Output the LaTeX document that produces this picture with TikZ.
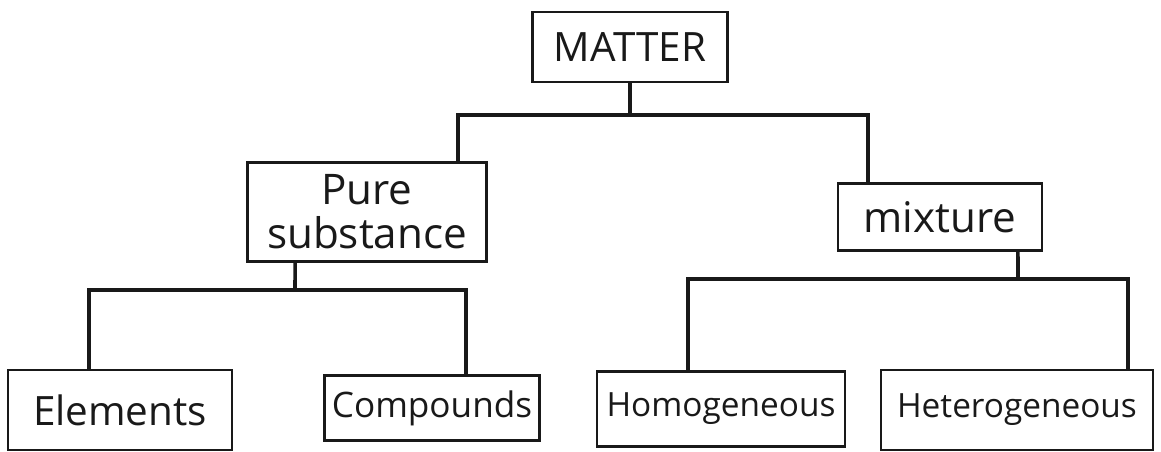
\documentclass[tikz,border=0pt]{standalone}
\usepackage{fontspec}
\setmainfont{Open Sans}
\usepackage{xcolor}
\definecolor{inkblack}{RGB}{25,25,25}
\usetikzlibrary{positioning}

\begin{document}
\begin{tikzpicture}[
    x=0.02cm, y=-0.02cm,
    every node/.style={font=\fontsize{20}{24}\selectfont, text=inkblack},
    box/.style={
        rectangle, draw=inkblack, line width=1.6pt,
        text centered, inner sep=2pt, align=center
    },
    link/.style={draw=inkblack, line width=2pt},
]

% ---- page ----
\useasboundingbox (0,0) rectangle (1161,452);

% ---- top ----
\node[box, minimum width=3.9cm, minimum height=1.4cm,
      font=\fontsize{23}{26}\selectfont] (matter) at (630,47) {MATTER};

% ---- second row ----
\node[box, minimum width=4.78cm, minimum height=1.98cm,
      font=\fontsize{24}{25}\selectfont] (pure) at (367,212) {Pure\\substance};
\node[box, minimum width=4.08cm, minimum height=1.34cm,
      font=\fontsize{24}{26}\selectfont] (mixture) at (940,217) {mixture};

% ---- bottom row ----
\node[box, minimum width=4.48cm, minimum height=1.6cm,
      font=\fontsize{23}{25}\selectfont] (elements) at (120,410) {Elements};
\node[box, minimum width=4.3cm, minimum height=1.3cm] (compounds) at (432,408) {Compounds};
\node[box, minimum width=4.96cm, minimum height=1.5cm,
      font=\fontsize{19}{22}\selectfont] (homog) at (721,409) {Homogeneous};
\node[box, minimum width=5.44cm, minimum height=1.6cm,
      font=\fontsize{19}{22}\selectfont] (heterog) at (1017,410) {Heterogeneous};

% ---- bars ----
\coordinate (topbar) at (630,115);
\coordinate (purebar) at (295,290);
\coordinate (mixbar) at (1018,279);

% ---- connectors ----
\draw[link] (matter) -- (topbar);
\draw[link] ([xshift=1.82cm]pure.north) |- (topbar) -| ([xshift=-1.44cm]mixture.north);

\draw[link] ([xshift=-1.44cm]pure.south) -- (purebar);
\draw[link] ([xshift=-0.62cm]elements.north) |- (purebar) -| ([xshift=0.68cm]compounds.north);

\draw[link] ([xshift=1.56cm]mixture.south) -- (mixbar);
\draw[link] ([xshift=-0.66cm]homog.north) |- (mixbar) -| ([xshift=2.22cm]heterog.north);

\end{tikzpicture}
\end{document}
